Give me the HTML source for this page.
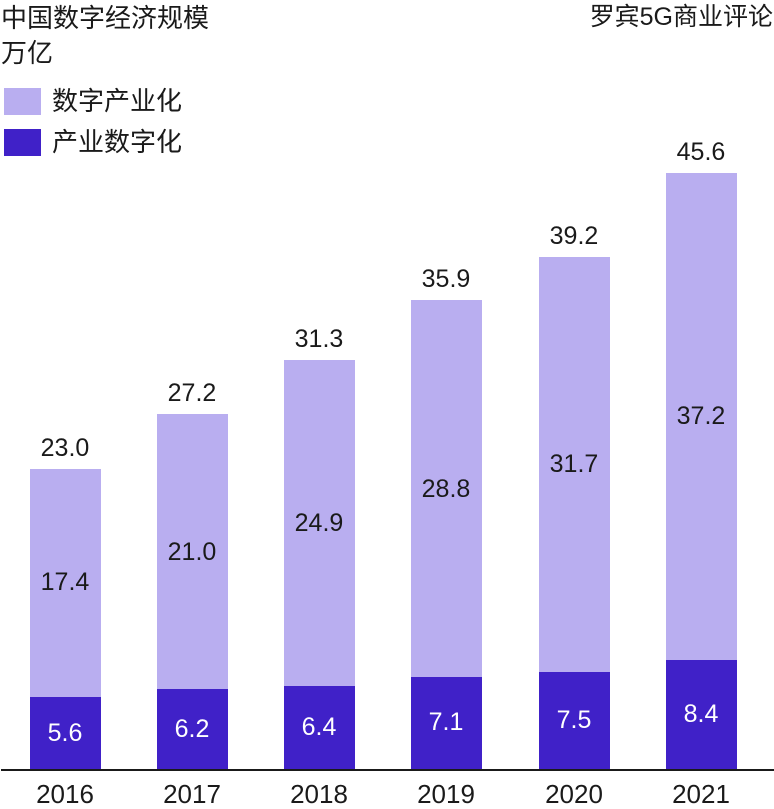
<!DOCTYPE html>
<html><head><meta charset="utf-8"><style>
body{margin:0;width:774px;height:808px;background:#fff;position:relative;overflow:hidden;font-family:"Liberation Sans","Noto Sans CJK SC",sans-serif;color:#1a1a1a}
div{position:absolute}
.t{font-size:26px;line-height:1;white-space:nowrap}
.l{background:#b9aef0}
.d{background:#4021c8}
.v{font-size:25px;line-height:1;width:72px;text-align:center}
.y{font-size:26px}
.w{color:#fff}
</style></head><body>
<div class="t" style="left:1px;top:5px">中国数字经济规模</div>
<div class="t" style="left:1px;top:40px">万亿</div>
<div class="t" style="right:1px;top:5px;font-size:25px">罗宾5G商业评论</div>
<div class="l" style="left:4px;top:88px;width:37px;height:27px"></div>
<div class="t" style="left:52px;top:88px">数字产业化</div>
<div class="d" style="left:4px;top:129px;width:37px;height:27px"></div>
<div class="t" style="left:52px;top:129px">产业数字化</div>

<div class="l" style="left:30px;top:469px;width:71px;height:228px"></div>
<div class="d" style="left:30px;top:697px;width:71px;height:73px"></div>
<div class="v" style="left:29px;top:436px">23.0</div>
<div class="v" style="left:29px;top:570px">17.4</div>
<div class="v w" style="left:29px;top:721px">5.6</div>

<div class="l" style="left:157px;top:414px;width:71px;height:275px"></div>
<div class="d" style="left:157px;top:689px;width:71px;height:81px"></div>
<div class="v" style="left:156px;top:381px">27.2</div>
<div class="v" style="left:156px;top:540px">21.0</div>
<div class="v w" style="left:156px;top:717px">6.2</div>

<div class="l" style="left:284px;top:360px;width:71px;height:326px"></div>
<div class="d" style="left:284px;top:686px;width:71px;height:84px"></div>
<div class="v" style="left:283px;top:327px">31.3</div>
<div class="v" style="left:283px;top:511px">24.9</div>
<div class="v w" style="left:283px;top:715px">6.4</div>

<div class="l" style="left:411px;top:300px;width:71px;height:377px"></div>
<div class="d" style="left:411px;top:677px;width:71px;height:93px"></div>
<div class="v" style="left:410px;top:267px">35.9</div>
<div class="v" style="left:410px;top:477px">28.8</div>
<div class="v w" style="left:410px;top:710px">7.1</div>

<div class="l" style="left:539px;top:257px;width:71px;height:415px"></div>
<div class="d" style="left:539px;top:672px;width:71px;height:98px"></div>
<div class="v" style="left:538px;top:224px">39.2</div>
<div class="v" style="left:538px;top:452px">31.7</div>
<div class="v w" style="left:538px;top:708px">7.5</div>

<div class="l" style="left:666px;top:173px;width:71px;height:487px"></div>
<div class="d" style="left:666px;top:660px;width:71px;height:110px"></div>
<div class="v" style="left:665px;top:140px">45.6</div>
<div class="v" style="left:665px;top:404px">37.2</div>
<div class="v w" style="left:665px;top:702px">8.4</div>

<div style="left:1px;top:769px;width:773px;height:2px;background:#1a1a1a"></div>
<div class="v y" style="left:29px;top:781px">2016</div>
<div class="v y" style="left:156px;top:781px">2017</div>
<div class="v y" style="left:283px;top:781px">2018</div>
<div class="v y" style="left:410px;top:781px">2019</div>
<div class="v y" style="left:538px;top:781px">2020</div>
<div class="v y" style="left:665px;top:781px">2021</div>
</body></html>
